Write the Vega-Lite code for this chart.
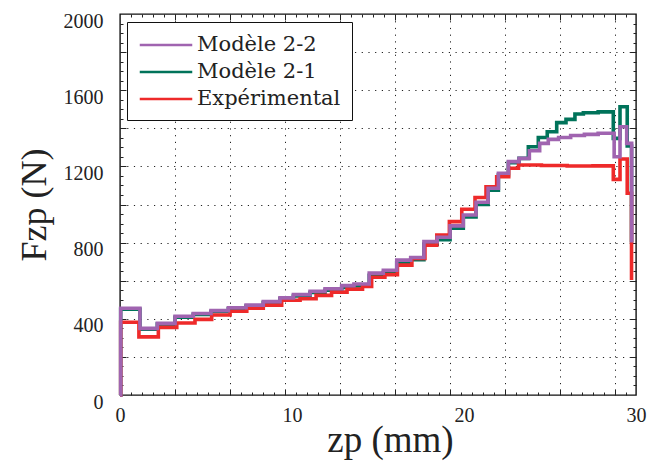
{
  "$schema": "https://vega.github.io/schema/vega-lite/v6.json",
  "width": 516,
  "height": 381,
  "autosize": {"type": "none"},
  "padding": {"left": 120, "top": 14, "right": 16, "bottom": 72},
  "background": "white",
  "config": {
    "view": {"stroke": "#111", "strokeWidth": 1.4},
    "axis": {"domain": false, "labelFont": "Liberation Serif", "titleFont": "Liberation Serif", "labelColor": "#222", "titleColor": "#222", "titleFontWeight": "normal", "tickColor": "#222", "labelFlush": false}
  },
  "data": {"values": [
    {"s": "Modèle 2-1", "x": 0, "y": 0}, {"s": "Modèle 2-1", "x": 0.04, "y": 450}, {"s": "Modèle 2-1", "x": 1.16, "y": 345}, {"s": "Modèle 2-1", "x": 2.17, "y": 372}, {"s": "Modèle 2-1", "x": 3.2, "y": 408}, {"s": "Modèle 2-1", "x": 4.26, "y": 423}, {"s": "Modèle 2-1", "x": 5.29, "y": 438}, {"s": "Modèle 2-1", "x": 6.3, "y": 453}, {"s": "Modèle 2-1", "x": 7.33, "y": 467}, {"s": "Modèle 2-1", "x": 8.33, "y": 485}, {"s": "Modèle 2-1", "x": 9.3, "y": 505}, {"s": "Modèle 2-1", "x": 10.08, "y": 520}, {"s": "Modèle 2-1", "x": 11.05, "y": 538}, {"s": "Modèle 2-1", "x": 11.92, "y": 550}, {"s": "Modèle 2-1", "x": 12.89, "y": 565}, {"s": "Modèle 2-1", "x": 13.6, "y": 573}, {"s": "Modèle 2-1", "x": 14.49, "y": 628}, {"s": "Modèle 2-1", "x": 15.31, "y": 643}, {"s": "Modèle 2-1", "x": 16.09, "y": 695}, {"s": "Modèle 2-1", "x": 16.9, "y": 710}, {"s": "Modèle 2-1", "x": 17.67, "y": 792}, {"s": "Modèle 2-1", "x": 18.44, "y": 815}, {"s": "Modèle 2-1", "x": 19.19, "y": 875}, {"s": "Modèle 2-1", "x": 19.96, "y": 935}, {"s": "Modèle 2-1", "x": 20.7, "y": 1000}, {"s": "Modèle 2-1", "x": 21.4, "y": 1075}, {"s": "Modèle 2-1", "x": 22.0, "y": 1155}, {"s": "Modèle 2-1", "x": 22.58, "y": 1220}, {"s": "Modèle 2-1", "x": 23.2, "y": 1242}, {"s": "Modèle 2-1", "x": 23.74, "y": 1303}, {"s": "Modèle 2-1", "x": 24.32, "y": 1352}, {"s": "Modèle 2-1", "x": 24.84, "y": 1382}, {"s": "Modèle 2-1", "x": 25.39, "y": 1430}, {"s": "Modèle 2-1", "x": 25.93, "y": 1447}, {"s": "Modèle 2-1", "x": 26.45, "y": 1475}, {"s": "Modèle 2-1", "x": 26.94, "y": 1482}, {"s": "Modèle 2-1", "x": 27.8, "y": 1486}, {"s": "Modèle 2-1", "x": 28.68, "y": 1347}, {"s": "Modèle 2-1", "x": 29.07, "y": 1513}, {"s": "Modèle 2-1", "x": 29.49, "y": 1307}, {"s": "Modèle 2-1", "x": 29.74, "y": 800},
    {"s": "Expérimental", "x": 0, "y": 0}, {"s": "Expérimental", "x": 0.04, "y": 382}, {"s": "Expérimental", "x": 1.1, "y": 305}, {"s": "Expérimental", "x": 2.23, "y": 355}, {"s": "Expérimental", "x": 3.3, "y": 378}, {"s": "Expérimental", "x": 4.36, "y": 397}, {"s": "Expérimental", "x": 5.33, "y": 420}, {"s": "Expérimental", "x": 6.4, "y": 440}, {"s": "Expérimental", "x": 7.37, "y": 455}, {"s": "Expérimental", "x": 8.33, "y": 472}, {"s": "Expérimental", "x": 9.4, "y": 497}, {"s": "Expérimental", "x": 10.47, "y": 505}, {"s": "Expérimental", "x": 11.4, "y": 523}, {"s": "Expérimental", "x": 12.3, "y": 540}, {"s": "Expérimental", "x": 13.2, "y": 556}, {"s": "Expérimental", "x": 14.1, "y": 570}, {"s": "Expérimental", "x": 14.63, "y": 618}, {"s": "Expérimental", "x": 15.4, "y": 632}, {"s": "Expérimental", "x": 16.13, "y": 682}, {"s": "Expérimental", "x": 16.97, "y": 717}, {"s": "Expérimental", "x": 17.73, "y": 787}, {"s": "Expérimental", "x": 18.42, "y": 840}, {"s": "Expérimental", "x": 19.15, "y": 910}, {"s": "Expérimental", "x": 19.87, "y": 975}, {"s": "Expérimental", "x": 20.64, "y": 1037}, {"s": "Expérimental", "x": 21.28, "y": 1093}, {"s": "Expérimental", "x": 21.9, "y": 1146}, {"s": "Expérimental", "x": 22.6, "y": 1190}, {"s": "Expérimental", "x": 23.17, "y": 1207}, {"s": "Expérimental", "x": 24.5, "y": 1205}, {"s": "Expérimental", "x": 26.0, "y": 1202}, {"s": "Expérimental", "x": 27.5, "y": 1203}, {"s": "Expérimental", "x": 28.68, "y": 1132}, {"s": "Expérimental", "x": 29.07, "y": 1239}, {"s": "Expérimental", "x": 29.49, "y": 1059}, {"s": "Expérimental", "x": 29.74, "y": 604},
    {"s": "Modèle 2-2", "x": 0, "y": 0}, {"s": "Modèle 2-2", "x": 0.04, "y": 455}, {"s": "Modèle 2-2", "x": 1.16, "y": 350}, {"s": "Modèle 2-2", "x": 2.17, "y": 376}, {"s": "Modèle 2-2", "x": 3.2, "y": 413}, {"s": "Modèle 2-2", "x": 4.26, "y": 428}, {"s": "Modèle 2-2", "x": 5.29, "y": 443}, {"s": "Modèle 2-2", "x": 6.3, "y": 458}, {"s": "Modèle 2-2", "x": 7.33, "y": 472}, {"s": "Modèle 2-2", "x": 8.33, "y": 490}, {"s": "Modèle 2-2", "x": 9.3, "y": 510}, {"s": "Modèle 2-2", "x": 10.08, "y": 527}, {"s": "Modèle 2-2", "x": 11.05, "y": 545}, {"s": "Modèle 2-2", "x": 11.92, "y": 558}, {"s": "Modèle 2-2", "x": 12.89, "y": 574}, {"s": "Modèle 2-2", "x": 13.6, "y": 583}, {"s": "Modèle 2-2", "x": 14.49, "y": 640}, {"s": "Modèle 2-2", "x": 15.31, "y": 655}, {"s": "Modèle 2-2", "x": 16.09, "y": 708}, {"s": "Modèle 2-2", "x": 16.9, "y": 722}, {"s": "Modèle 2-2", "x": 17.67, "y": 805}, {"s": "Modèle 2-2", "x": 18.44, "y": 828}, {"s": "Modèle 2-2", "x": 19.19, "y": 888}, {"s": "Modèle 2-2", "x": 19.96, "y": 945}, {"s": "Modèle 2-2", "x": 20.7, "y": 1012}, {"s": "Modèle 2-2", "x": 21.4, "y": 1085}, {"s": "Modèle 2-2", "x": 22.0, "y": 1164}, {"s": "Modèle 2-2", "x": 22.58, "y": 1225}, {"s": "Modèle 2-2", "x": 23.2, "y": 1242}, {"s": "Modèle 2-2", "x": 23.8, "y": 1282}, {"s": "Modèle 2-2", "x": 24.4, "y": 1321}, {"s": "Modèle 2-2", "x": 24.9, "y": 1342}, {"s": "Modèle 2-2", "x": 25.5, "y": 1352}, {"s": "Modèle 2-2", "x": 26.2, "y": 1362}, {"s": "Modèle 2-2", "x": 27.0, "y": 1368}, {"s": "Modèle 2-2", "x": 27.8, "y": 1374}, {"s": "Modèle 2-2", "x": 28.73, "y": 1251}, {"s": "Modèle 2-2", "x": 29.07, "y": 1408}, {"s": "Modèle 2-2", "x": 29.46, "y": 1321}, {"s": "Modèle 2-2", "x": 29.75, "y": 800}
  ]},
  "layer": [
    {
      "mark": {"type": "point", "opacity": 0},
      "encoding": {
        "x": {"field": "x", "type": "quantitative", "scale": {"domain": [0, 30], "nice": false, "zero": false}, "axis": {"orient": "bottom", "values": [3.2, 6.4, 9.6, 12.8, 16, 19.2, 22.4, 25.6, 28.8], "labels": false, "title": null, "tickSize": -6, "tickWidth": 1, "grid": true, "gridDash": [1.2, 5.5], "gridColor": "#222", "gridWidth": 1}},
        "y": {"field": "y", "type": "quantitative", "scale": {"domain": [0, 2000], "nice": false, "zero": false}, "axis": {"orient": "left", "values": [200, 400, 600, 800, 1000, 1200, 1400, 1600, 1800], "labels": false, "title": null, "tickSize": -6, "tickWidth": 1, "grid": true, "gridDash": [1.2, 5.5], "gridColor": "#222", "gridWidth": 1}}
      }
    },
    {
      "mark": {"type": "point", "opacity": 0},
      "encoding": {
        "x": {"field": "x", "type": "quantitative", "scale": {"domain": [0, 30], "nice": false, "zero": false}, "axis": {"orient": "bottom", "values": [0.64, 1.28, 1.92, 2.56, 3.84, 4.48, 5.12, 5.76, 7.04, 7.68, 8.32, 8.96, 10.24, 10.88, 11.52, 12.16, 13.44, 14.08, 14.72, 15.36, 16.64, 17.28, 17.92, 18.56, 19.84, 20.48, 21.12, 21.76, 23.04, 23.68, 24.32, 24.96, 26.24, 26.88, 27.52, 28.16, 29.44], "labels": false, "title": null, "tickSize": -3, "tickWidth": 1, "grid": false}},
        "y": {"field": "y", "type": "quantitative", "scale": {"domain": [0, 2000], "nice": false, "zero": false}, "axis": {"orient": "left", "values": [50, 100, 150, 250, 300, 350, 450, 500, 550, 650, 700, 750, 850, 900, 950, 1050, 1100, 1150, 1250, 1300, 1350, 1450, 1500, 1550, 1650, 1700, 1750, 1850, 1900, 1950], "labels": false, "title": null, "tickSize": -3, "tickWidth": 1, "grid": false}}
      }
    },
    {
      "mark": {"type": "point", "opacity": 0},
      "encoding": {
        "x": {"field": "x", "type": "quantitative", "scale": {"domain": [0, 30], "nice": false, "zero": false}, "axis": {"orient": "top", "values": [3.2, 6.4, 9.6, 12.8, 16, 19.2, 22.4, 25.6, 28.8], "labels": false, "title": null, "tickSize": -6, "tickWidth": 1, "grid": false}},
        "y": {"field": "y", "type": "quantitative", "scale": {"domain": [0, 2000], "nice": false, "zero": false}, "axis": {"orient": "right", "values": [200, 400, 600, 800, 1000, 1200, 1400, 1600, 1800], "labels": false, "title": null, "tickSize": -6, "tickWidth": 1, "grid": false}}
      }
    },
    {
      "mark": {"type": "point", "opacity": 0},
      "encoding": {
        "x": {"field": "x", "type": "quantitative", "scale": {"domain": [0, 30], "nice": false, "zero": false}, "axis": {"orient": "top", "values": [0.64, 1.28, 1.92, 2.56, 3.84, 4.48, 5.12, 5.76, 7.04, 7.68, 8.32, 8.96, 10.24, 10.88, 11.52, 12.16, 13.44, 14.08, 14.72, 15.36, 16.64, 17.28, 17.92, 18.56, 19.84, 20.48, 21.12, 21.76, 23.04, 23.68, 24.32, 24.96, 26.24, 26.88, 27.52, 28.16, 29.44], "labels": false, "title": null, "tickSize": -3, "tickWidth": 1, "grid": false}},
        "y": {"field": "y", "type": "quantitative", "scale": {"domain": [0, 2000], "nice": false, "zero": false}, "axis": {"orient": "right", "values": [50, 100, 150, 250, 300, 350, 450, 500, 550, 650, 700, 750, 850, 900, 950, 1050, 1100, 1150, 1250, 1300, 1350, 1450, 1500, 1550, 1650, 1700, 1750, 1850, 1900, 1950], "labels": false, "title": null, "tickSize": -3, "tickWidth": 1, "grid": false}}
      }
    },
    {
      "transform": [{"filter": "datum.s === 'Modèle 2-1'"}],
      "mark": {"type": "line", "interpolate": "step-after", "strokeWidth": 3.6, "strokeJoin": "miter", "strokeCap": "butt"},
      "encoding": {
        "x": {"field": "x", "type": "quantitative", "scale": {"domain": [0, 30], "nice": false, "zero": false}, "axis": {"orient": "bottom", "values": [0, 10, 20, 30], "format": "d", "ticks": false, "grid": false, "labelFontSize": 20, "labelPadding": 10, "title": "zp (mm)", "titleFontSize": 37, "titlePadding": -3, "titleX": 270}},
        "y": {"field": "y", "type": "quantitative", "scale": {"domain": [0, 2000], "nice": false, "zero": false}, "axis": {"orient": "left", "values": [0, 400, 800, 1200, 1600, 2000], "format": "d", "ticks": false, "grid": false, "labelFontSize": 20, "labelPadding": 17, "labelOffset": 7, "title": "Fzp (N)", "titleFontSize": 36, "titlePadding": 10}},
        "color": {"field": "s", "type": "nominal", "scale": {"domain": ["Modèle 2-2", "Modèle 2-1", "Expérimental"], "range": ["#a064b0", "#00735a", "#ee2a2a"]}, "legend": {"orient": "none", "legendX": 7, "legendY": 8, "title": null, "symbolType": "M-2.5,0H2.5", "symbolSize": 441, "symbolOffset": 16, "symbolStrokeWidth": 2.5, "symbolOpacity": 1, "symbolFillColor": "transparent", "labelFont": "DejaVu Serif", "labelFontSize": 21, "labelColor": "#222", "labelOffset": 19, "padding": 11, "rowPadding": 5, "strokeColor": "#111", "fillColor": "white", "cornerRadius": 0, "labelLimit": 300}}
      }
    },
    {
      "transform": [{"filter": "datum.s === 'Expérimental'"}],
      "mark": {"type": "line", "interpolate": "step-after", "strokeWidth": 3.6, "strokeJoin": "miter", "strokeCap": "butt"},
      "encoding": {
        "x": {"field": "x", "type": "quantitative", "scale": {"domain": [0, 30], "nice": false, "zero": false}, "axis": null},
        "y": {"field": "y", "type": "quantitative", "scale": {"domain": [0, 2000], "nice": false, "zero": false}, "axis": null},
        "color": {"field": "s", "type": "nominal", "scale": {"domain": ["Modèle 2-2", "Modèle 2-1", "Expérimental"], "range": ["#a064b0", "#00735a", "#ee2a2a"]}}
      }
    },
    {
      "transform": [{"filter": "datum.s === 'Modèle 2-2'"}],
      "mark": {"type": "line", "interpolate": "step-after", "strokeWidth": 3.6, "strokeJoin": "miter", "strokeCap": "butt"},
      "encoding": {
        "x": {"field": "x", "type": "quantitative", "scale": {"domain": [0, 30], "nice": false, "zero": false}, "axis": null},
        "y": {"field": "y", "type": "quantitative", "scale": {"domain": [0, 2000], "nice": false, "zero": false}, "axis": null},
        "color": {"field": "s", "type": "nominal", "scale": {"domain": ["Modèle 2-2", "Modèle 2-1", "Expérimental"], "range": ["#a064b0", "#00735a", "#ee2a2a"]}}
      }
    }
  ],
  "resolve": {"axis": {"x": "independent", "y": "independent"}}
}
